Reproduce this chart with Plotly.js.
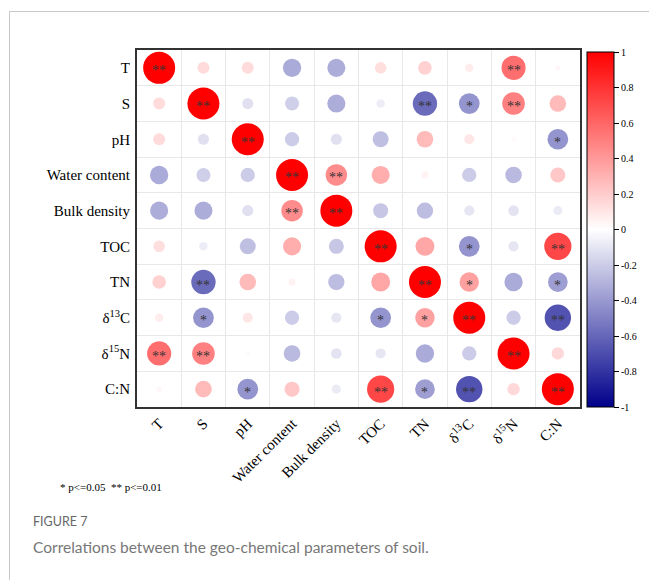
<!DOCTYPE html>
<html>
<head>
<meta charset="utf-8">
<script src="https://cdn.plot.ly/plotly-3.0.1.min.js"></script>
<style>
  html, body { margin: 0; padding: 0; background: #fff; }
  #wrap { position: relative; width: 649px; height: 580px; overflow: hidden; }
  #frame { position: absolute; left: 9px; top: 11px; width: 700px; height: 700px;
           border-top: 1px solid #c8c8c8; border-left: 1px solid #c8c8c8; }
  #chart { position: absolute; left: 0; top: 0; width: 649px; height: 580px; }
</style>
</head>
<body>
<div id="wrap">
  <div id="frame"></div>
  <div id="chart"></div>
</div>
<script>
// Variable labels (same order for rows and columns)
const labels = ["T", "S", "pH", "Water content", "Bulk density", "TOC", "TN",
                "δ<sup>13</sup>C", "δ<sup>15</sup>N", "C:N"];

// Correlation matrix rows
const rowT   = [ 1.00,  0.14,  0.14, -0.33, -0.32,  0.13,  0.18,  0.07,  0.57,  0.03];
const rowS   = [ 0.14,  1.00, -0.12, -0.19, -0.32, -0.07, -0.58, -0.42,  0.50,  0.27];
const rowPH  = [ 0.14, -0.12,  1.00, -0.20, -0.12, -0.25,  0.27,  0.10,  0.02, -0.42];
const rowWC  = [-0.33, -0.19, -0.20,  1.00,  0.45,  0.32,  0.05, -0.20, -0.27,  0.22];
const rowBD  = [-0.32, -0.32, -0.12,  0.45,  1.00, -0.22, -0.26, -0.10, -0.11, -0.08];
const rowTOC = [ 0.13, -0.07, -0.25,  0.32, -0.22,  1.00,  0.35, -0.42, -0.10,  0.72];
const rowTN  = [ 0.18, -0.58,  0.27,  0.05, -0.26,  0.35,  1.00,  0.37, -0.33, -0.38];
const rowC13 = [ 0.07, -0.42,  0.10, -0.20, -0.10, -0.42,  0.37,  1.00, -0.20, -0.68];
const rowN15 = [ 0.57,  0.50,  0.02, -0.27, -0.11, -0.10, -0.33, -0.20,  1.00,  0.15];
const rowCN  = [ 0.03,  0.27, -0.42,  0.22, -0.08,  0.72, -0.38, -0.68,  0.15,  1.00];
const corr = [rowT, rowS, rowPH, rowWC, rowBD, rowTOC, rowTN, rowC13, rowN15, rowCN];

// Significance marks
const sigT   = ["**", "", "", "", "", "", "", "", "**", ""];
const sigS   = ["", "**", "", "", "", "", "**", "*", "**", ""];
const sigPH  = ["", "", "**", "", "", "", "", "", "", "*"];
const sigWC  = ["", "", "", "**", "**", "", "", "", "", ""];
const sigBD  = ["", "", "", "**", "**", "", "", "", "", ""];
const sigTOC = ["", "", "", "", "", "**", "", "*", "", "**"];
const sigTN  = ["", "**", "", "", "", "", "**", "*", "", "*"];
const sigC13 = ["", "*", "", "", "", "*", "*", "**", "", "**"];
const sigN15 = ["**", "**", "", "", "", "", "", "", "**", ""];
const sigCN  = ["", "", "*", "", "", "**", "*", "**", "", "**"];
const sig = [sigT, sigS, sigPH, sigWC, sigBD, sigTOC, sigTN, sigC13, sigN15, sigCN];

const cbTicks = [1, 0.8, 0.6, 0.4, 0.2, 0, -0.2, -0.4, -0.6, -0.8, -1];

// Build marker arrays
const xs = [], ys = [], vals = [], sizes = [];
const ann = [];
const MAXD = 32;
for (let i = 0; i < labels.length; i++) {
  for (let j = 0; j < labels.length; j++) {
    const v = corr[i][j];
    xs.push(j); ys.push(i); vals.push(v);
    sizes.push(Math.max(MAXD * Math.sqrt(Math.abs(v)), 0.5));
    if (sig[i][j]) {
      ann.push({
        x: j, y: i, xref: 'x', yref: 'y', text: sig[i][j], showarrow: false,
        yshift: -3,
        font: { family: 'Liberation Serif, Times New Roman, serif', size: 14, color: '#333' }
      });
    }
  }
}

const serif = 'Liberation Serif, Times New Roman, serif';

const trace = {
  type: 'scatter', mode: 'markers',
  x: xs, y: ys,
  hoverinfo: 'none',
  marker: {
    size: sizes, sizemode: 'diameter', opacity: 1,
    color: vals, cmin: -1, cmax: 1,
    colorscale: [[0, '#00008B'], [0.5, '#FFFFFF'], [1, '#FF0000']],
    line: { width: 0 },
    colorbar: {
      x: (587 - 137) / 444, xanchor: 'left', xref: 'paper',
      y: 0, yanchor: 'bottom', yref: 'paper',
      len: (407 - 52) / 357, lenmode: 'fraction',
      thickness: 27, thicknessmode: 'pixels',
      xpad: 0, ypad: 0,
      outlinewidth: 1, outlinecolor: '#000',
      ticks: 'outside', ticklen: 5, tickcolor: '#000', tickwidth: 1,
      tickmode: 'array', tickvals: cbTicks, ticktext: cbTicks.map(String),
      tickfont: { family: serif, size: 10, color: '#000' }
    }
  }
};

ann.push({
  xref: 'paper', yref: 'paper', x: (58 - 137) / 444, y: (407 - 487) / 357,
  xanchor: 'left', yanchor: 'middle', showarrow: false,
  text: '* p&lt;=0.05  ** p&lt;=0.01',
  font: { family: serif, size: 11, color: '#000' }
});
ann.push({
  xref: 'paper', yref: 'paper', x: (31 - 137) / 444, y: (407 - 521) / 357,
  xanchor: 'left', yanchor: 'middle', showarrow: false,
  text: 'FIGURE 7',
  font: { family: 'Lato, Open Sans, sans-serif', size: 12.5, color: '#666' }
});
ann.push({
  xref: 'paper', yref: 'paper', x: (31 - 137) / 444, y: (407 - 547) / 357,
  xanchor: 'left', yanchor: 'middle', showarrow: false,
  text: 'Correlations between the geo-chemical parameters of soil.',
  font: { family: 'Lato, Open Sans, sans-serif', size: 15.5, color: '#777' }
});

const axisCommon = {
  tickmode: 'array',
  tickvals: labels.map((_, k) => k),
  ticktext: labels,
  showgrid: false,
  zeroline: false,
  showline: true, mirror: true, linecolor: '#333', linewidth: 2,
  ticks: '',
  minor: { tickmode: 'linear', tick0: -0.5, dtick: 1, showgrid: true,
           gridcolor: '#e8e8e8', gridwidth: 1, ticks: '' },
  tickfont: { family: serif, size: 15, color: '#000' },
  fixedrange: true
};

const layout = {
  width: 649, height: 580,
  margin: { l: 137, r: 68, t: 50, b: 173 },
  paper_bgcolor: 'rgba(0,0,0,0)',
  plot_bgcolor: '#fff',
  showlegend: false,
  xaxis: Object.assign({}, axisCommon, { range: [-0.5, 9.5], tickangle: -45 }),
  yaxis: Object.assign({}, axisCommon, { range: [9.5, -0.5], ticklabelstandoff: 2 }),
  annotations: ann
};

Plotly.newPlot('chart', [trace], layout, { staticPlot: true, displayModeBar: false });
</script>
</body>
</html>
